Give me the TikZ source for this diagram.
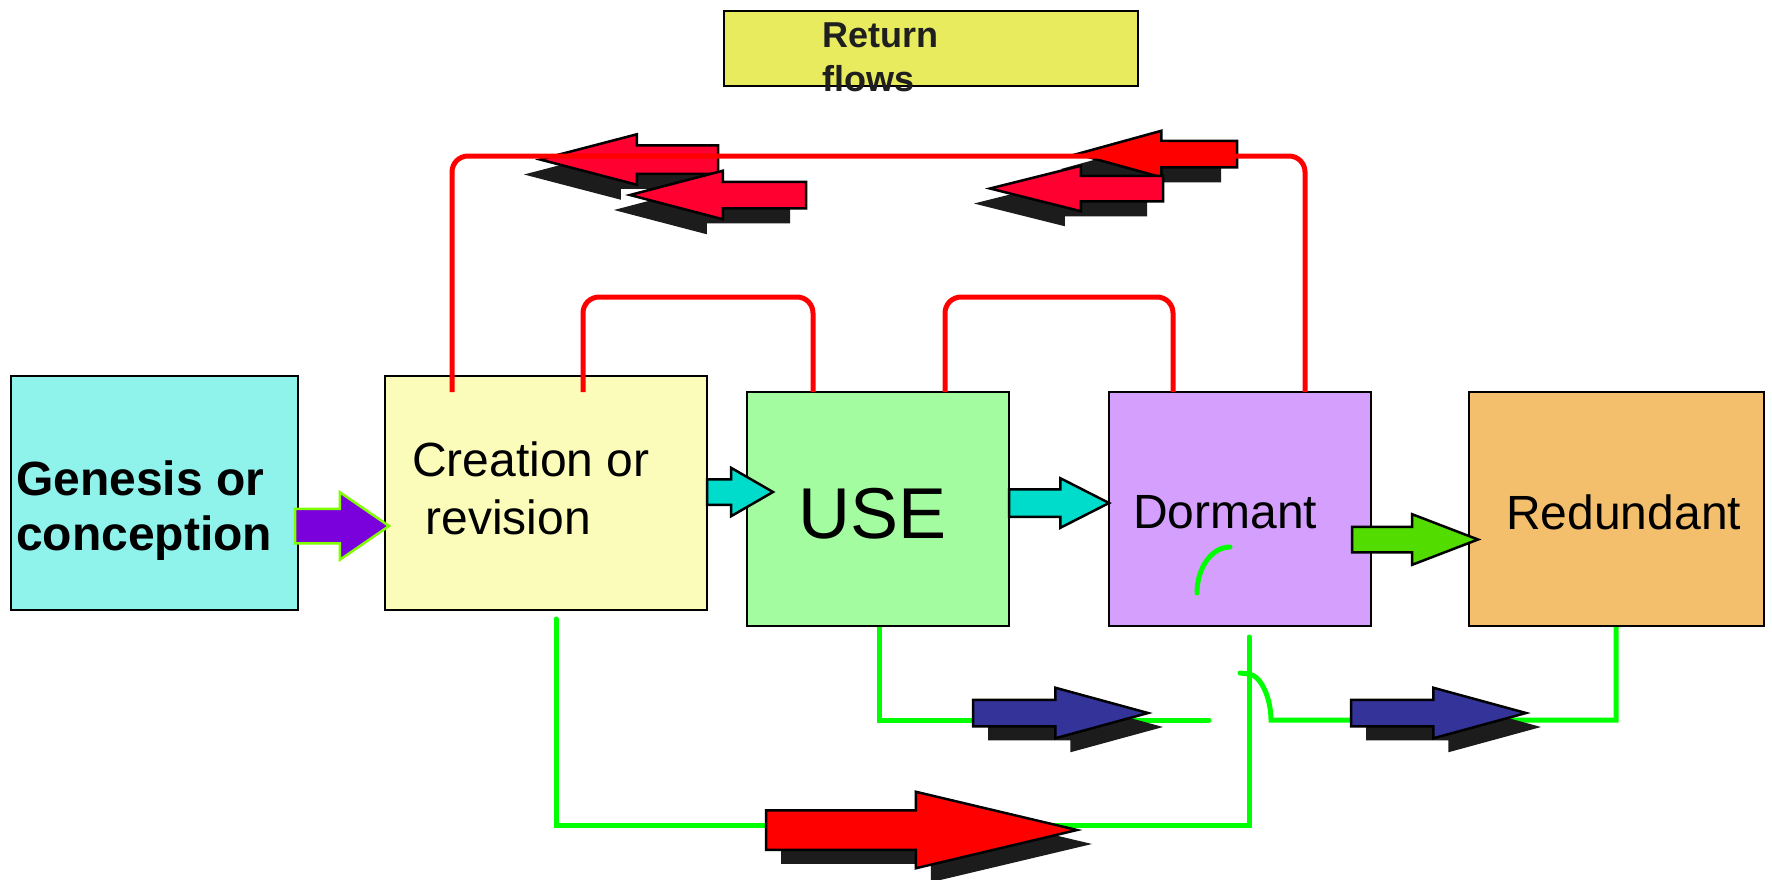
\documentclass[tikz,border=0pt]{standalone}
\usepackage{fontspec}
\setmainfont{Liberation Sans}
\usetikzlibrary{positioning, calc, shapes.arrows, shadows, backgrounds}

\definecolor{genesisfill}{HTML}{8FF2EB}
\definecolor{creationfill}{HTML}{FCFCBA}
\definecolor{usefill}{HTML}{A3FDA0}
\definecolor{dormantfill}{HTML}{D49FFD}
\definecolor{redundantfill}{HTML}{F4BF6C}
\definecolor{notefill}{HTML}{E9EB5E}
\definecolor{tealarr}{HTML}{00DCCB}
\definecolor{purplearr}{HTML}{7A00DC}
\definecolor{limeedge}{HTML}{80FF00}
\definecolor{greenarr}{HTML}{52DC00}
\definecolor{bluearr}{HTML}{333399}
\definecolor{crimsonarr}{HTML}{FF0030}
\definecolor{flowgreen}{HTML}{00FF00}
\definecolor{shadowgray}{HTML}{1C1C1C}

\tikzset{
  stage/.style={draw, line width=2pt, inner sep=0pt, outer sep=0pt, minimum height=234pt},
  stagetext/.style={font=\fontsize{48}{58}\selectfont, inner sep=0pt, anchor=base west, align=left},
  fat/.style={single arrow, draw=black, line width=2.5pt, inner xsep=0pt, outer sep=0pt, minimum width=0pt},
  dropr/.style={drop shadow={shadow xshift=15pt, shadow yshift=-14pt, fill=shadowgray, opacity=1}},
  dropl/.style={drop shadow={shadow xshift=-16pt, shadow yshift=-15pt, fill=shadowgray, opacity=1}},
  ret/.style={red, line width=5pt, rounded corners=16pt},
  fwd/.style={flowgreen, line width=5pt, line cap=round},
}

\begin{document}
\begin{tikzpicture}[x=1pt, y=-1pt]
\useasboundingbox (0,0) rectangle (1772,879);

% stages
\node[stage, fill=notefill, minimum width=414pt, minimum height=75pt] (note) at (931,48.5) {};
\node[stage, fill=genesisfill, minimum width=287pt] (genesis) at (154.5,493) {};
\node[stage, fill=creationfill, minimum width=322pt, right=87pt of genesis] (creation) {};
\node[stage, fill=usefill, minimum width=262pt, below right=16pt and 40pt of creation.north east] (use) {};
\node[stage, fill=dormantfill, minimum width=262pt, right=100pt of use] (dormant) {};
\node[stage, fill=redundantfill, minimum width=295pt, right=98pt of dormant] (redundant) {};

\node[stagetext, font=\bfseries\fontsize{36}{44}\selectfont, text=black!88] (note-t) at ([shift={(98,42.5)}]note.west) {Return\\flows};
\node[stagetext, font=\bfseries\fontsize{48}{55}\selectfont] (genesis-t) at ([shift={(5,57)}]genesis.west) {Genesis or\\conception};
\node[stagetext] (creation-t) at ([shift={(27,41)}]creation.west) {Creation or\\\ revision};
\node[stagetext, font=\fontsize{72}{80}\selectfont] (use-t) at ([shift={(51,29)}]use.west) {USE};
\node[stagetext] (dormant-t) at ([shift={(24,19)}]dormant.west) {Dormant};
\node[stagetext] (redundant-t) at ([shift={(37,20)}]redundant.west) {Redundant};

% forward flows
\begin{scope}[on background layer]
\fill[white] (0,0) rectangle (1772,879);
\draw[fwd] ([shift={(171,9)}]creation.south west) |- ([shift={(140,199)}]dormant.south west) -- ([shift={(140,11)}]dormant.south west);
\draw[fwd] ([xshift=132pt]use.south west) |- ([shift={(462,94)}]use.south west);
\draw[fwd] ([xshift=147pt]redundant.south west) |- (1271,720) .. controls (1271,700) and (1262,676) .. (1249,674) -- (1240,673);
\end{scope}
\draw[fwd] (1197,593) arc[start angle=180, end angle=270, x radius=33, y radius=46];

% block arrows between stages
\node[fat, fill=purplearr, draw=limeedge, inner ysep=16pt, single arrow head extend=16.5pt, single arrow tip angle=69, minimum height=94pt, anchor=tail] (gen-cre) at ([shift={(-3,33)}]genesis.east) {};
\node[fat, fill=tealarr, inner ysep=11.5pt, single arrow head extend=11.5pt, single arrow tip angle=60, minimum height=66pt, anchor=tail] (cre-use) at ([yshift=1pt]creation.east) {};
\node[fat, fill=tealarr, inner ysep=12.5pt, single arrow head extend=11pt, single arrow tip angle=54, minimum height=100pt, anchor=tail] (use-dor) at ([yshift=6pt]use.east) {};
\node[fat, fill=greenarr, inner ysep=11.5pt, single arrow head extend=12.5pt, single arrow tip angle=42, minimum height=126pt, anchor=tail] (dor-red) at ([shift={(-19,30.5)}]dormant.east) {};

% flow arrows with shadow
\node[fat, fill=bluearr, dropr, inner ysep=12pt, single arrow head extend=12pt, single arrow tip angle=30.5, minimum height=175pt, anchor=tail] (flow-a) at (973,713) {};
\node[fat, fill=bluearr, dropr, inner ysep=12pt, single arrow head extend=12pt, single arrow tip angle=30.5, minimum height=175pt, anchor=tail] (flow-b) at (1351,713) {};
\node[fat, fill=red, dropr, inner ysep=18.5pt, single arrow head extend=18.5pt, single arrow tip angle=26.7, minimum height=311pt, anchor=tail] (flow-c) at (766,830) {};

\node[fat, fill=crimsonarr, dropl, rotate=180, inner ysep=13pt, single arrow head extend=11pt, single arrow tip angle=29.2, minimum height=178pt, anchor=tip] (back-a) at (540,159.5) {};
\node[fat, fill=crimsonarr, dropl, rotate=180, inner ysep=12pt, single arrow head extend=11pt, single arrow tip angle=29.3, minimum height=176pt, anchor=tip] (back-b) at (630,195) {};
\node[fat, fill=red, dropl, rotate=180, inner ysep=12pt, single arrow head extend=10pt, single arrow tip angle=30.8, minimum height=160pt, anchor=tip] (back-c) at (1077,154) {};
\node[fat, fill=crimsonarr, dropl, rotate=180, inner ysep=11.5pt, single arrow head extend=10pt, single arrow tip angle=28.1, minimum height=173pt, anchor=tip] (back-d) at (990,188.5) {};

% return flows
\draw[ret] ([shift={(67,16)}]creation.north west) |- ([shift={(196,-236)}]dormant.north west) -- ([xshift=196pt]dormant.north west);
\draw[ret] ([shift={(198,16)}]creation.north west) |- ([shift={(66,-95)}]use.north west) -- ([xshift=66pt]use.north west);
\draw[ret] ([xshift=198pt]use.north west) |- ([shift={(64,-95)}]dormant.north west) -- ([xshift=64pt]dormant.north west);
\end{tikzpicture}
\end{document}
